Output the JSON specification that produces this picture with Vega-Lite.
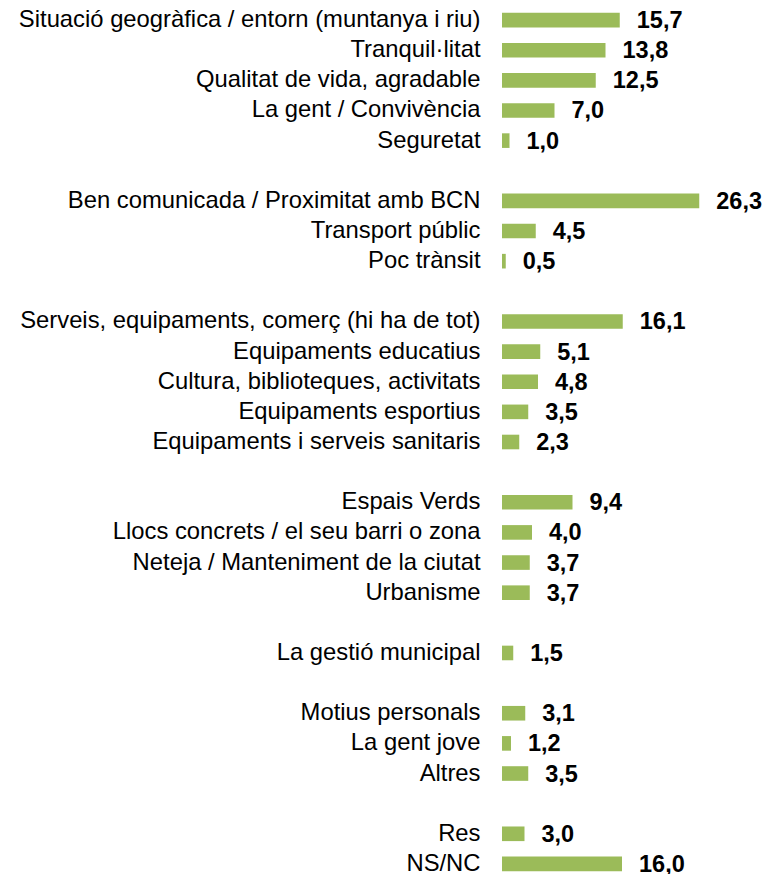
{
  "$schema": "https://vega.github.io/schema/vega-lite/v6.json",
  "autosize": {"type": "none"},
  "width": 225,
  "height": 874,
  "padding": {"left": 502, "top": 5, "right": 37, "bottom": 0},
  "background": "white",
  "config": {
    "view": {"stroke": null},
    "locale": {"number": {"decimal": ",", "thousands": ".", "grouping": [3], "currency": ["", " €"]}}
  },
  "data": {
    "values": [
      {"cat": "Situació geogràfica / entorn (muntanya i riu)", "val": 15.7},
      {"cat": "Tranquil·litat", "val": 13.8},
      {"cat": "Qualitat de vida, agradable", "val": 12.5},
      {"cat": "La gent / Convivència", "val": 7.0},
      {"cat": "Seguretat", "val": 1.0},
      {"cat": "Ben comunicada / Proximitat amb BCN", "val": 26.3},
      {"cat": "Transport públic", "val": 4.5},
      {"cat": "Poc trànsit", "val": 0.5},
      {"cat": "Serveis, equipaments, comerç (hi ha de tot)", "val": 16.1},
      {"cat": "Equipaments educatius", "val": 5.1},
      {"cat": "Cultura, biblioteques, activitats", "val": 4.8},
      {"cat": "Equipaments esportius", "val": 3.5},
      {"cat": "Equipaments i serveis sanitaris", "val": 2.3},
      {"cat": "Espais Verds", "val": 9.4},
      {"cat": "Llocs concrets / el seu barri o zona", "val": 4.0},
      {"cat": "Neteja / Manteniment de la ciutat", "val": 3.7},
      {"cat": "Urbanisme", "val": 3.7},
      {"cat": "La gestió municipal", "val": 1.5},
      {"cat": "Motius personals", "val": 3.1},
      {"cat": "La gent jove", "val": 1.2},
      {"cat": "Altres", "val": 3.5},
      {"cat": "Res", "val": 3.0},
      {"cat": "NS/NC", "val": 16.0}
    ]
  },
  "encoding": {
    "y": {
      "field": "cat",
      "type": "nominal",
      "scale": {
        "domain": [
          "Situació geogràfica / entorn (muntanya i riu)", "Tranquil·litat", "Qualitat de vida, agradable", "La gent / Convivència", "Seguretat",
          " ",
          "Ben comunicada / Proximitat amb BCN", "Transport públic", "Poc trànsit",
          "  ",
          "Serveis, equipaments, comerç (hi ha de tot)", "Equipaments educatius", "Cultura, biblioteques, activitats", "Equipaments esportius", "Equipaments i serveis sanitaris",
          "   ",
          "Espais Verds", "Llocs concrets / el seu barri o zona", "Neteja / Manteniment de la ciutat", "Urbanisme",
          "    ",
          "La gestió municipal",
          "     ",
          "Motius personals", "La gent jove", "Altres",
          "      ",
          "Res", "NS/NC"
        ],
        "paddingInner": 0.515,
        "paddingOuter": 0.2575
      },
      "axis": {
        "title": null,
        "domain": false,
        "ticks": false,
        "tickSize": 0,
        "labelPadding": 22,
        "labelFont": "Liberation Sans",
        "labelFontSize": 23.8,
        "labelColor": "#000000",
        "labelLimit": 600
      }
    },
    "x": {
      "field": "val",
      "type": "quantitative",
      "scale": {"domain": [0, 30], "nice": false},
      "axis": null
    }
  },
  "layer": [
    {"mark": {"type": "bar", "color": "#9BBB59"}},
    {
      "mark": {"type": "text", "align": "left", "baseline": "middle", "dx": 17, "dy": 1, "font": "Liberation Sans", "fontSize": 23.5, "fontWeight": "bold", "color": "#000000"},
      "encoding": {"text": {"field": "val", "type": "quantitative", "format": ".1f"}}
    }
  ]
}
